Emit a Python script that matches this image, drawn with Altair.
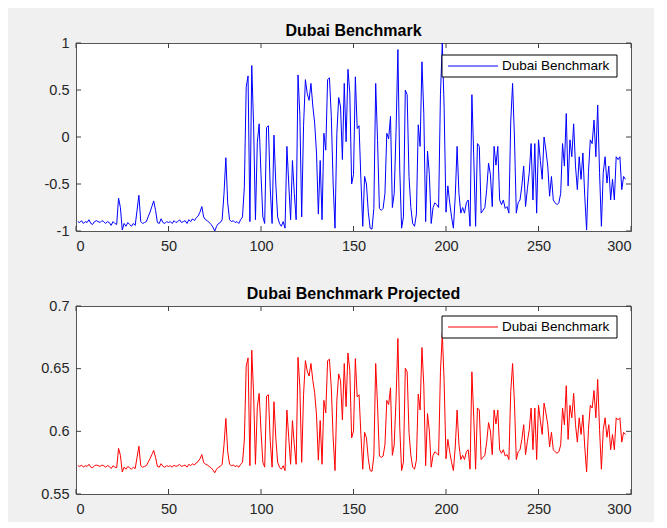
import altair as alt
import pandas as pd

x_index = list(range(1, 298))

benchmark = [
    -0.90, -0.91, -0.89, -0.92, -0.90, -0.91, -0.88, -0.92, -0.93, -0.90,
    -0.89, -0.90, -0.91, -0.89, -0.90, -0.92, -0.90, -0.91, -0.94, -0.90,
    -0.92, -0.93, -0.65, -0.75, -0.99, -0.92, -0.95, -0.91, -0.93, -0.95,
    -0.92, -0.94, -0.78, -0.62, -0.90, -0.92, -0.91, -0.90, -0.85, -0.80,
    -0.74, -0.68, -0.78, -0.91, -0.92, -0.87, -0.91, -0.92, -0.90, -0.91,
    -0.90, -0.92, -0.89, -0.91, -0.90, -0.88, -0.91, -0.90, -0.89, -0.92,
    -0.88, -0.90, -0.87, -0.89, -0.86, -0.84, -0.80, -0.74, -0.85, -0.88,
    -0.89, -0.91, -0.93, -0.96, -1.00, -0.95, -0.92, -0.91, -0.88, -0.60,
    -0.22, -0.70, -0.88, -0.90, -0.89, -0.91, -0.90, -0.92, -0.88, -0.85,
    -0.53, 0.53, 0.65, -0.90, 0.76, 0.13, -0.88, -0.06, 0.14, -0.40,
    -0.85, -0.92, 0.10, 0.12, -0.55, -0.92, 0.02, -0.50, -0.85, -0.92,
    -0.95, -0.90, -0.97, -0.10, -0.50, -0.88, -0.25, -0.60, -0.88, 0.66,
    0.23, -0.85, 0.12, 0.61, 0.46, 0.39, 0.57, 0.33, 0.15, -0.17,
    -0.82, -0.25, -0.88, 0.04, -0.14, 0.61, 0.63, 0.22, -0.50, -0.97,
    0.04, 0.42, 0.32, -0.24, 0.57, -0.05, 0.72, 0.47, -0.50, -0.40,
    0.64, 0.09, 0.12, -0.45, -0.95, -0.42, -0.50, -0.80, -0.97, -0.98,
    -0.76, 0.57, -0.04, -0.76, -0.78, -0.76, -0.60, 0.04, -0.02, 0.22,
    -0.75, -0.60, 0.06, 0.93, -0.35, -0.97, -0.85, 0.50, 0.45, -0.42,
    -0.75, -0.92, -0.95, -0.82, 0.13, -0.10, 0.80, 0.25, -0.90, -0.15,
    -0.40, -0.92, -0.75, -0.70, -0.72, -0.75, 0.45, 1.00, 0.30, -0.80,
    -0.52, -0.70, -0.85, -0.97, -0.63, -0.10, -0.60, -0.81, -0.75, -0.81,
    -0.70, -0.67, -0.95, 0.45, -0.21, -0.95, -0.07, -0.10, -0.81, -0.78,
    -0.75, -0.56, -0.28, -0.40, -0.74, -0.10, -0.30, -0.10, -0.67, -0.72,
    -0.67, -0.76, -0.74, -0.81, 0.17, 0.57, 0.00, -0.81, -0.70, -0.67,
    -0.52, -0.31, -0.74, -0.55, -0.38, -0.07, -0.67, -0.07, -0.81, -0.03,
    -0.25, -0.45, 0.00, -0.14, -0.31, -0.63, -0.42, -0.67, -0.70, -0.72,
    -0.70, -0.60, -0.07, -0.31, 0.25, -0.52, -0.03, -0.21, 0.14, -0.31,
    -0.56, -0.21, -0.45, -0.17, -0.63, -0.99, -0.38, -0.03, -0.07, 0.18,
    -0.21, 0.34, -0.38, -0.95, -0.38, -0.21, -0.49, -0.31, -0.67, -0.45,
    -0.67, -0.21, -0.24, -0.21, -0.56, -0.42, -0.45,
]

projected = [
    0.5726, 0.5720, 0.5731, 0.5714, 0.5726, 0.5720, 0.5737, 0.5714, 0.5709, 0.5726,
    0.5731, 0.5726, 0.5720, 0.5731, 0.5726, 0.5714, 0.5726, 0.5720, 0.5703, 0.5726,
    0.5714, 0.5709, 0.5864, 0.5809, 0.5676, 0.5714, 0.5698, 0.5720, 0.5709, 0.5698,
    0.5714, 0.5703, 0.5792, 0.5881, 0.5726, 0.5714, 0.5720, 0.5726, 0.5753, 0.5781,
    0.5814, 0.5848, 0.5792, 0.5720, 0.5714, 0.5742, 0.5720, 0.5714, 0.5726, 0.5720,
    0.5726, 0.5714, 0.5731, 0.5720, 0.5726, 0.5737, 0.5720, 0.5726, 0.5731, 0.5714,
    0.5737, 0.5726, 0.5742, 0.5731, 0.5748, 0.5759, 0.5781, 0.5814, 0.5753, 0.5737,
    0.5731, 0.5720, 0.5709, 0.5692, 0.5670, 0.5698, 0.5714, 0.5720, 0.5737, 0.5892,
    0.6103, 0.5837, 0.5737, 0.5726, 0.5731, 0.5720, 0.5726, 0.5714, 0.5737, 0.5753,
    0.5931, 0.6519, 0.6586, 0.5726, 0.6647, 0.6297, 0.5737, 0.6192, 0.6303, 0.6003,
    0.5753, 0.5714, 0.6281, 0.6292, 0.5920, 0.5714, 0.6236, 0.5948, 0.5753, 0.5714,
    0.5698, 0.5726, 0.5687, 0.6170, 0.5948, 0.5737, 0.6086, 0.5892, 0.5737, 0.6591,
    0.6353, 0.5753, 0.6292, 0.6564, 0.6480, 0.6441, 0.6541, 0.6408, 0.6308, 0.6131,
    0.5770, 0.6086, 0.5737, 0.6247, 0.6147, 0.6564, 0.6575, 0.6347, 0.5948, 0.5687,
    0.6247, 0.6458, 0.6403, 0.6092, 0.6541, 0.6197, 0.6625, 0.6486, 0.5948, 0.6003,
    0.6580, 0.6275, 0.6292, 0.5975, 0.5698, 0.5992, 0.5948, 0.5781, 0.5687, 0.5681,
    0.5803, 0.6541, 0.6203, 0.5803, 0.5792, 0.5803, 0.5892, 0.6247, 0.6214, 0.6347,
    0.5809, 0.5892, 0.6258, 0.6741, 0.6031, 0.5687, 0.5753, 0.6503, 0.6475, 0.5992,
    0.5809, 0.5714, 0.5698, 0.5770, 0.6297, 0.6170, 0.6669, 0.6364, 0.5726, 0.6142,
    0.6003, 0.5714, 0.5809, 0.5837, 0.5825, 0.5809, 0.6475, 0.6780, 0.6392, 0.5781,
    0.5936, 0.5837, 0.5753, 0.5687, 0.5875, 0.6170, 0.5892, 0.5775, 0.5809, 0.5775,
    0.5837, 0.5853, 0.5698, 0.6475, 0.6108, 0.5698, 0.6186, 0.6170, 0.5775, 0.5792,
    0.5809, 0.5914, 0.6070, 0.6003, 0.5814, 0.6170, 0.6059, 0.6170, 0.5853, 0.5825,
    0.5853, 0.5803, 0.5814, 0.5775, 0.6319, 0.6541, 0.6225, 0.5775, 0.5837, 0.5853,
    0.5936, 0.6053, 0.5814, 0.5920, 0.6014, 0.6186, 0.5853, 0.6186, 0.5775, 0.6208,
    0.6086, 0.5975, 0.6225, 0.6147, 0.6053, 0.5875, 0.5992, 0.5853, 0.5837, 0.5825,
    0.5837, 0.5892, 0.6186, 0.6053, 0.6364, 0.5936, 0.6208, 0.6108, 0.6303, 0.6053,
    0.5914, 0.6108, 0.5975, 0.6131, 0.5875, 0.5676, 0.6014, 0.6208, 0.6186, 0.6325,
    0.6108, 0.6414, 0.6014, 0.5698, 0.6014, 0.6108, 0.5953, 0.6053, 0.5853, 0.5975,
    0.5853, 0.6108, 0.6092, 0.6108, 0.5914, 0.5992, 0.5975,
]

x_ticks = [0, 50, 100, 150, 200, 250, 300]
y_ticks_top = [-1, -0.5, 0, 0.5, 1]
y_ticks_bottom = [0.55, 0.6, 0.65, 0.7]
legend_labels = ["Dubai Benchmark"]

W, H = 555, 188
FONT = "Liberation Sans"
AX = "#262626"
TICK = "#404040"


def panel(values, color, title, ydomain, yticks, leg_y):
    df = pd.DataFrame({"x": x_index, "y": values})
    axis_common = dict(title=None, ticks=False, domain=False, grid=False,
                       labelFont=FONT, labelFontSize=14.5, labelColor=AX,
                       labelExpr="toString(datum.value)")
    xs = alt.Scale(domain=[0, 300], nice=False, zero=False)
    ys = alt.Scale(domain=ydomain, nice=False, zero=False)
    line = alt.Chart(df).mark_line(color=color, strokeWidth=1, clip=True).encode(
        x=alt.X("x:Q", scale=xs, axis=alt.Axis(values=x_ticks, labelPadding=8, **axis_common)),
        y=alt.Y("y:Q", scale=ys, axis=alt.Axis(values=yticks, labelPadding=7, **axis_common)),
    )
    tx = pd.DataFrame({"x": x_ticks})
    ty = pd.DataFrame({"y": yticks})
    bt = alt.Chart(tx).mark_rule(color=TICK, strokeWidth=1).encode(
        x=alt.X("x:Q"), y=alt.value(H), y2=alt.value(H - 5))
    tt = alt.Chart(tx).mark_rule(color=TICK, strokeWidth=1).encode(
        x=alt.X("x:Q"), y=alt.value(0), y2=alt.value(5))
    lt = alt.Chart(ty).mark_rule(color=TICK, strokeWidth=1).encode(
        y=alt.Y("y:Q"), x=alt.value(0), x2=alt.value(5))
    rt = alt.Chart(ty).mark_rule(color=TICK, strokeWidth=1).encode(
        y=alt.Y("y:Q"), x=alt.value(W), x2=alt.value(W - 5))

    ldf = pd.DataFrame({"label": legend_labels})
    box = alt.Chart(ldf).mark_rect(fill="white", stroke="black", strokeWidth=1).encode(
        x=alt.value(366), x2=alt.value(541), y=alt.value(leg_y), y2=alt.value(leg_y + 22))
    sample = alt.Chart(ldf).mark_rule(color=color, strokeWidth=1).encode(
        x=alt.value(372), x2=alt.value(422), y=alt.value(leg_y + 11))
    text = alt.Chart(ldf).mark_text(align="left", baseline="middle", font=FONT,
                                    fontSize=13.5, color="black").encode(
        x=alt.value(426), y=alt.value(leg_y + 11), text="label:N")

    return alt.layer(line, bt, tt, lt, rt, box, sample, text).properties(
        width=W, height=H,
        title=alt.TitleParams(title, font=FONT, fontSize=16, fontWeight="bold",
                              color="black", offset=-4),
    )


top = panel(benchmark, "#0000ff", "Dubai Benchmark", [-1, 1], y_ticks_top, 12)
bottom = panel(projected, "#ff0000", "Dubai Benchmark Projected", [0.55, 0.7], y_ticks_bottom, 10)

chart = alt.vconcat(top, bottom, spacing=32).properties(
    background="#f0f0f0",
    padding={"left": 32, "top": 14, "right": 22, "bottom": 6},
).configure_view(fill="white", stroke="#555555", strokeWidth=1)

chart.save("out.html", embed_options={"renderer": "svg", "actions": False})
